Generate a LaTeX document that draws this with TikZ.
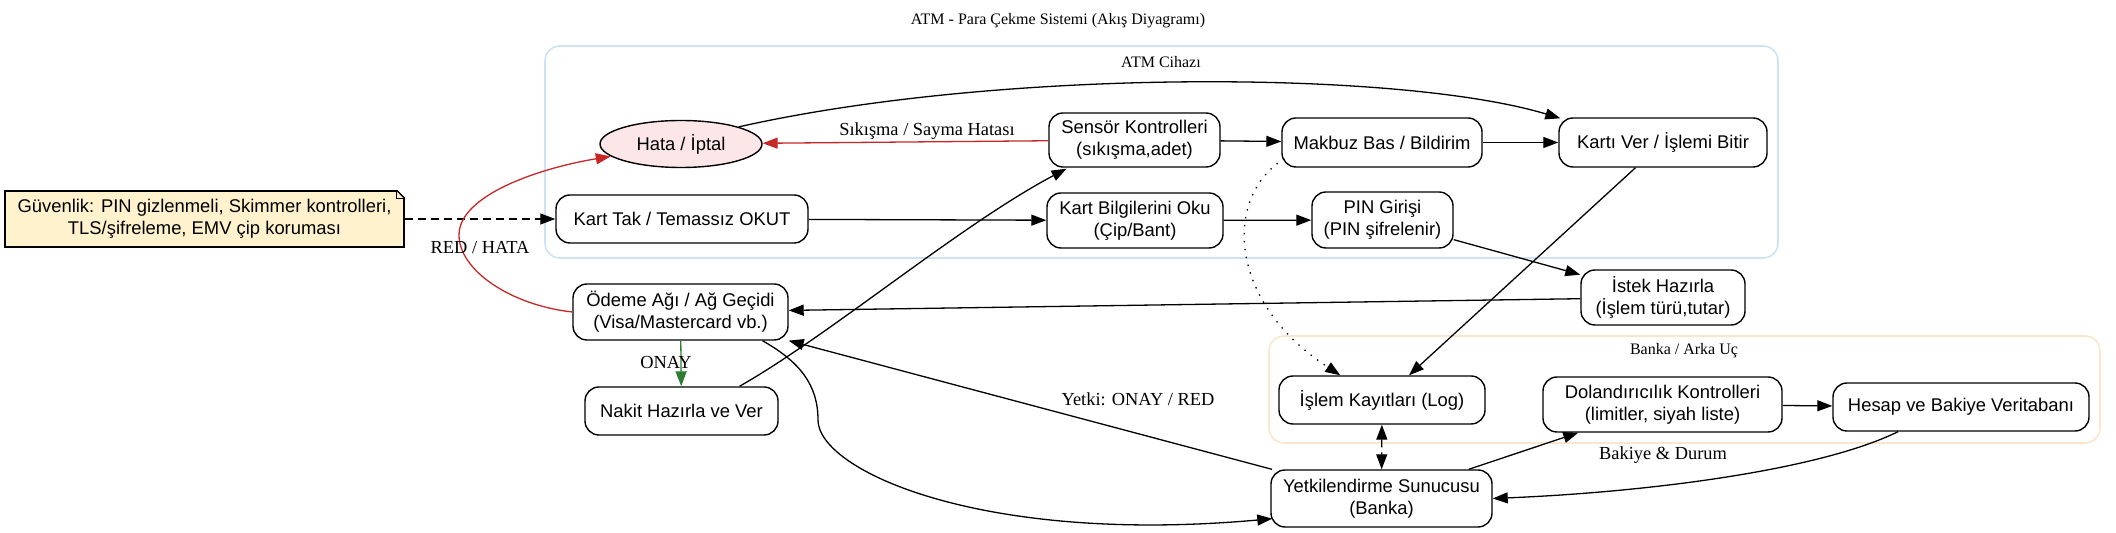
\documentclass[tikz,border=0pt]{standalone}
\usepackage{fontspec}
\setmainfont{Liberation Serif}
\newfontfamily\sansf{Liberation Sans}
\usetikzlibrary{arrows.meta,shapes.geometric,calc}
\definecolor{atmblue}{HTML}{CFE2F3}
\definecolor{bankorange}{HTML}{FCE5CD}
\definecolor{errpink}{HTML}{FCE6E8}
\definecolor{noteyellow}{HTML}{FFF2CC}
\definecolor{errred}{HTML}{C62828}
\definecolor{okgreen}{HTML}{2E7D32}
\begin{document}
\begin{tikzpicture}[x=0.5pt,y=-0.5pt,
  box/.style={draw, fill=white, rounded corners=7pt, line width=0.7pt, inner sep=0pt, align=center,
    font=\sansf\fontsize{9.2pt}{11pt}\selectfont},
  errnode/.style={draw, fill=errpink, ellipse, line width=0.7pt, inner sep=0pt,
    font=\sansf\fontsize{9.2pt}{11pt}\selectfont},
  notebox/.style={draw, fill=noteyellow, line width=0.7pt, inner sep=0pt, align=center,
    font=\sansf\fontsize{9.2pt}{11pt}\selectfont},
  cluster/.style={rounded corners=7.5pt, line width=0.8pt, inner sep=0pt},
  lbl/.style={font=\fontsize{9.2pt}{11pt}\selectfont, inner sep=0pt},
  clbl/.style={font=\fontsize{8pt}{10pt}\selectfont, inner sep=0pt},
  edge/.style={line width=0.65pt, -{Triangle[length=7.5pt,width=5.5pt]}},
  dashline/.style={dash pattern=on 4pt off 2.5pt},
  dotline/.style={dash pattern=on 0.7pt off 3.3pt}
]
\useasboundingbox (0,0) rectangle (2116,533);

% title and clusters
\node[clbl] (title) at (1058,21) {ATM - Para Çekme Sistemi (Akış Diyagramı)};
\node[cluster, draw=atmblue, minimum width=616.5pt, minimum height=106pt] (atm) at (1161.5,152) {};
\node[clbl] (atmlbl) at (1161,62) {ATM Cihazı};
\node[cluster, draw=bankorange, minimum width=415.5pt, minimum height=53.5pt] (bank) at (1684.5,389.5) {};
\node[clbl] (banklbl) at (1684,351) {Banka / Arka Uç};

% nodes
\node[notebox, minimum width=199.5pt, minimum height=28pt] (note) at (204.5,219)
  {Güvenlik: PIN gizlenmeli, Skimmer kontrolleri,\\TLS/şifreleme, EMV çip koruması};
\fill[white] ($(note.north east)+(-8,-1)$) -- ($(note.north east)+(1,-1)$) -- ($(note.north east)+(1,8)$) -- cycle;
\draw[line width=0.7pt] ($(note.north east)+(-8,0)$) -- ($(note.north east)+(0,8)$);
\draw[line width=0.4pt] ($(note.north east)+(-8,0)$) -- ($(note.north east)+(-8,8)$) -- ($(note.north east)+(0,8)$);

\node[errnode, minimum width=81pt, minimum height=23.5pt] (hata) at (681,144) {Hata / İptal};
\node[box, minimum width=126pt, minimum height=24pt] (karttak) at (682,219) {Kart Tak / Temassız OKUT};
\node[box, minimum width=85.5pt, minimum height=27pt] (sensor) at (1134.5,140) {Sensör Kontrolleri\\(sıkışma,adet)};
\node[box, minimum width=100pt, minimum height=24.5pt] (makbuz) at (1382,142.5) {Makbuz Bas / Bildirim};
\node[box, minimum width=88pt, minimum height=27.5pt] (kartbilgi) at (1135,220.5) {Kart Bilgilerini Oku\\(Çip/Bant)};
\node[box, minimum width=70.5pt, minimum height=28pt] (pin) at (1382.5,220) {PIN Girişi\\(PIN şifrelenir)};
\node[box, minimum width=104pt, minimum height=24.5pt] (kartiver) at (1663,142.5) {Kartı Ver / İşlemi Bitir};
\node[box, minimum width=82pt, minimum height=27.5pt] (istek) at (1663,297.5) {İstek Hazırla\\(İşlem türü,tutar)};
\node[box, minimum width=107.5pt, minimum height=28pt] (odeme) at (680.5,312) {Ödeme Ağı / Ağ Geçidi\\(Visa/Mastercard vb.)};
\node[box, minimum width=96.5pt, minimum height=24pt] (nakit) at (681.5,411) {Nakit Hazırla ve Ver};
\node[box, minimum width=103pt, minimum height=24pt] (log) at (1382,400) {İşlem Kayıtları (Log)};
\node[box, minimum width=119.5pt, minimum height=27.5pt] (dolan) at (1662.5,404.5) {Dolandırıcılık Kontrolleri\\(limitler, siyah liste)};
\node[box, minimum width=128pt, minimum height=24pt] (hesap) at (1961,407) {Hesap ve Bakiye Veritabanı};
\node[box, minimum width=110.5pt, minimum height=28.5pt] (yetk) at (1381.5,498.5) {Yetkilendirme Sunucusu\\(Banka)};

% edges
\draw[edge, dashline] (note) -- (karttak);
\draw[edge] (karttak) -- (kartbilgi);
\draw[edge] (kartbilgi) -- (pin);
\draw[edge] (pin) -- (istek);
\draw[edge] (istek) -- (odeme);
\draw[edge, draw=okgreen] (odeme) -- (nakit) node[lbl] (lonay) at (666,363) {ONAY};
\draw[edge] ($(nakit.north)+(58,0)$) .. controls (830,335) and (960,225) .. ($(sensor.south)+(-68,1)$);
\draw[edge, draw=errred] (sensor) -- (hata) node[lbl] (lsik) at (927,131) {Sıkışma / Sayma Hatası};
\draw[edge] (sensor) -- (makbuz);
\draw[edge] (makbuz) -- (kartiver);
\draw[edge] (hata.north east) .. controls (1000,68) and (1400,70) .. ($(kartiver.north west)+(2,1)$);
\draw[edge, dotline] ($(makbuz.south west)+(3,-9)$) .. controls (1225,195) and (1225,300) .. ($(log.north west)+(62,0)$);
\draw[edge] (kartiver) -- (log);
\draw[edge, dashline, {Triangle[length=7.5pt,width=5.5pt]}-{Triangle[length=7.5pt,width=5.5pt]}] (log) -- (yetk);
\draw[edge] (yetk) -- (dolan);
\draw[edge] (dolan) -- (hesap);
\draw[edge] ($(hesap.south)+(-63,0)$) .. controls (1820,470) and (1650,492) .. (yetk.east)
  node[lbl] (lbak) at (1663,455) {Bakiye \& Durum};
\draw[edge] (yetk) -- (odeme) node[lbl] (lyetki) at (1138,399) {Yetki: ONAY / RED};
\draw[edge] ($(odeme.south)+(82,0)$) .. controls (800,362) and (818,385) .. (818,420)
  .. controls (818,470) and (980,545) .. ($(yetk.south west)+(2,-9)$);
\draw[edge, draw=errred] (odeme.west) .. controls (510,305) and (459,270) .. (459,235)
  .. controls (459,195) and (540,168) .. (hata.190) node[lbl] (lred) at (480,248) {RED / HATA};
\end{tikzpicture}
\end{document}
